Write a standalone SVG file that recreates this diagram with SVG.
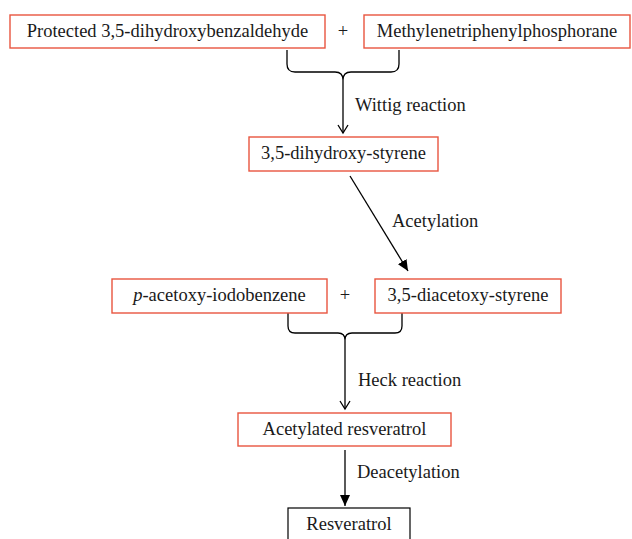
<svg xmlns="http://www.w3.org/2000/svg" width="632" height="539" viewBox="0 0 632 539">
<style>
.box{fill:#fff;stroke:#e8553f;stroke-width:1.4}
.bbox{fill:#fff;stroke:#000;stroke-width:1.2}
text{font-family:"Liberation Serif","Times New Roman",serif;font-size:18.5px;fill:#1a1a1a}
.c{text-anchor:middle}
.ln{fill:none;stroke:#000;stroke-width:1.3}
</style>
<defs>
<marker id="open" markerWidth="12" markerHeight="12" refX="10" refY="6" orient="auto" markerUnits="userSpaceOnUse" viewBox="0 0 12 12">
<path d="M2,1 L10,6 L2,11" fill="none" stroke="#000" stroke-width="1.3"/>
</marker>
<marker id="fill" markerWidth="12" markerHeight="12" refX="11" refY="6" orient="auto" markerUnits="userSpaceOnUse" viewBox="0 0 12 12">
<path d="M0,1 L11,6 L0,11 Z" fill="#000"/>
</marker>
</defs>
<g id="connectors">
<path class="ln" d="M287,50 V64 Q287,72 295,72 H335 Q343,72 343,80 M399,50 V64 Q399,72 391,72 H351 Q343,72 343,80"/>
<path class="ln" d="M343,80 V133" marker-end="url(#open)"/>
<path class="ln" d="M350,176 L408,271" marker-end="url(#fill)"/>
<path class="ln" d="M288,313 V326 Q288,333 295,333 H338 Q345,333 345,340 M402,313 V326 Q402,333 395,333 H352 Q345,333 345,340"/>
<path class="ln" d="M345,340 V409" marker-end="url(#open)"/>
<path class="ln" d="M345,450 V506" marker-end="url(#fill)"/>
<text x="355" y="111">Wittig reaction</text>
<text x="392" y="227">Acetylation</text>
<text x="358" y="386">Heck reaction</text>
<text x="357" y="478">Deacetylation</text>
<text x="343" y="37" class="c">+</text>
<text x="345" y="301" class="c">+</text>
</g>
<g id="n1"><rect class="box" x="10" y="15" width="315" height="33"/><text x="167.5" y="37" class="c">Protected 3,5-dihydroxybenzaldehyde</text></g>
<g id="n2"><rect class="box" x="364" y="15" width="266" height="33"/><text x="497" y="37" class="c">Methylenetriphenylphosphorane</text></g>
<g id="n3"><rect class="box" x="249" y="137" width="189" height="34"/><text x="343.5" y="159" class="c">3,5-dihydroxy-styrene</text></g>
<g id="n4"><rect class="box" x="112" y="279" width="215" height="34"/><text x="219.5" y="301" class="c"><tspan font-style="italic">p</tspan>-acetoxy-iodobenzene</text></g>
<g id="n5"><rect class="box" x="375" y="279" width="186" height="34"/><text x="468" y="301" class="c">3,5-diacetoxy-styrene</text></g>
<g id="n6"><rect class="box" x="238" y="413" width="213" height="33"/><text x="344.5" y="435" class="c">Acetylated resveratrol</text></g>
<g id="n7"><rect class="bbox" x="288" y="508" width="122" height="40"/><text x="349" y="530" class="c">Resveratrol</text></g>
</svg>
